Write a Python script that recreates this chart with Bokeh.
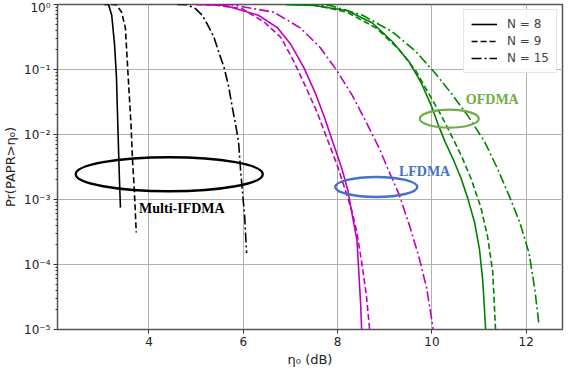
from bokeh.plotting import figure
from bokeh.models import (Range1d, FixedTicker, CustomJSTickFormatter, Legend, LegendItem, LogTicker)
from bokeh.core.properties import value
from bokeh.embed import file_html
from bokeh.resources import INLINE

# ---------------- data ----------------
# Multi-IFDMA (black)
ifdma_n8_x = [3.05, 3.144, 3.21, 3.27, 3.31, 3.33, 3.35, 3.37, 3.395]
ifdma_n8_y = [1.0, 0.99, 0.684, 0.242, 0.078, 0.024, 0.0077, 0.00245, 0.00075]
ifdma_n9_x = [3.20, 3.31, 3.42, 3.50, 3.54, 3.58, 3.62, 3.65, 3.69, 3.73]
ifdma_n9_y = [1.0, 0.99, 0.76, 0.436, 0.134, 0.043, 0.0138, 0.0042, 0.00137, 0.00031]
ifdma_n15_x = [4.60, 4.81, 4.98, 5.13, 5.27, 5.38, 5.48, 5.59, 5.69, 5.75, 5.84, 5.90, 5.94, 5.98, 6.03, 6.07]
ifdma_n15_y = [1.0, 0.99, 0.87, 0.684, 0.45, 0.31, 0.184, 0.109, 0.055, 0.0305, 0.0138, 0.0077, 0.003, 0.00137, 0.00054, 0.00015]

# LFDMA (magenta)
lfdma_n8_x = [5.00, 5.30, 5.61, 6.32, 6.73, 7.01, 7.28, 7.53, 7.74, 7.90, 8.09, 8.22, 8.32, 8.41, 8.45, 8.49, 8.51]
lfdma_n8_y = [1.0, 0.995, 0.966, 0.684, 0.436, 0.242, 0.109, 0.043, 0.0169, 0.0076, 0.0030, 0.00136, 5.3e-4, 2.4e-4, 7.7e-5, 2.4e-5, 1.0e-5]
lfdma_n9_x = [5.00, 5.40, 5.96, 6.44, 6.80, 7.07, 7.32, 7.57, 7.78, 7.99, 8.15, 8.30, 8.41, 8.51, 8.61, 8.68]
lfdma_n9_y = [1.0, 0.98, 0.87, 0.54, 0.31, 0.134, 0.055, 0.0216, 0.0085, 0.0034, 0.0015, 6.8e-4, 3.1e-4, 1.1e-4, 3.4e-5, 1.0e-5]
lfdma_n15_x = [5.20, 5.75, 6.65, 7.21, 7.63, 7.99, 8.32, 8.61, 8.89, 9.09, 9.30, 9.51, 9.72, 9.89, 10.03]
lfdma_n15_y = [1.0, 0.99, 0.76, 0.436, 0.218, 0.095, 0.039, 0.0153, 0.006, 0.0027, 0.00122, 4.3e-4, 1.35e-4, 4.3e-5, 1.0e-5]

# OFDMA (green)
ofdma_n8_x = [6.90, 7.49, 8.20, 8.74, 9.16, 9.51, 9.78, 9.99, 10.14, 10.28, 10.45, 10.62, 10.76, 10.91, 11.01, 11.08, 11.14]
ofdma_n8_y = [1.0, 0.966, 0.81, 0.52, 0.27, 0.134, 0.061, 0.0275, 0.0138, 0.0077, 0.0042, 0.0021, 0.00105, 4.3e-4, 1.7e-4, 5.5e-5, 1.0e-5]
ofdma_n9_x = [6.90, 7.49, 8.20, 8.82, 9.30, 9.66, 9.93, 10.20, 10.41, 10.62, 10.83, 11.04, 11.18, 11.29, 11.35]
ofdma_n9_y = [1.0, 0.99, 0.76, 0.436, 0.204, 0.095, 0.043, 0.0195, 0.0098, 0.0048, 0.0021, 7.5e-4, 2.7e-4, 7.7e-5, 1.0e-5]
ofdma_n15_x = [7.00, 7.84, 8.53, 9.16, 9.66, 10.08, 10.41, 10.76, 11.12, 11.39, 11.66, 11.87, 12.06, 12.18, 12.27]
ofdma_n15_y = [1.0, 0.966, 0.684, 0.38, 0.19, 0.086, 0.043, 0.0195, 0.0077, 0.003, 0.00105, 4.3e-4, 1.5e-4, 4.3e-5, 1.2e-5]

x_ticks = [4, 6, 8, 10, 12]
legend_labels = ["N = 8", "N = 9", "N = 15"]

# annotations
ann_labels = ["Multi-IFDMA", "LFDMA", "OFDMA"]
ann_text_x = [3.79, 9.30, 10.72]
ann_text_y = [7.3e-4, 0.0027, 0.035]
ell_x = [4.43, 8.82, 10.37]
ell_y = [0.00245, 0.00156, 0.0175]

# ---------------- figure ----------------
p = figure(width=566, height=369, y_axis_type="log",
           x_range=Range1d(2.06, 12.77), y_range=Range1d(1e-5, 1.0),
           output_backend="svg", toolbar_location=None,
           min_border_left=55, min_border_right=4, min_border_top=4, min_border_bottom=35)

p.background_fill_color = "white"
p.border_fill_color = "white"
p.outline_line_color = "#555555"
p.outline_line_width = 1.5

black = "black"
magenta = "#bf00bf"
green = "#008000"
solid, dashed, dashdot = "solid", "6 3", "10 3 2 3"
lw = 1.6

r8 = p.line(ifdma_n8_x, ifdma_n8_y, color=black, line_width=lw, line_dash=solid)
r9 = p.line(ifdma_n9_x, ifdma_n9_y, color=black, line_width=lw, line_dash=dashed)
r15 = p.line(ifdma_n15_x, ifdma_n15_y, color=black, line_width=lw, line_dash=dashdot)
p.line(lfdma_n8_x, lfdma_n8_y, color=magenta, line_width=lw, line_dash=solid)
p.line(lfdma_n9_x, lfdma_n9_y, color=magenta, line_width=lw, line_dash=dashed)
p.line(lfdma_n15_x, lfdma_n15_y, color=magenta, line_width=lw, line_dash=dashdot)
p.line(ofdma_n8_x, ofdma_n8_y, color=green, line_width=lw, line_dash=solid)
p.line(ofdma_n9_x, ofdma_n9_y, color=green, line_width=lw, line_dash=dashed)
p.line(ofdma_n15_x, ofdma_n15_y, color=green, line_width=lw, line_dash=dashdot)

legend = Legend(items=[LegendItem(label=legend_labels[0], renderers=[r8]),
                       LegendItem(label=legend_labels[1], renderers=[r9]),
                       LegendItem(label=legend_labels[2], renderers=[r15])],
                location="top_right")
legend.label_text_font = "DejaVu Sans"
legend.label_text_font_size = "12px"
legend.glyph_width = 26
legend.glyph_height = 14
legend.label_standoff = 10
legend.spacing = 3
legend.padding = 7
legend.margin = 5
legend.border_line_color = "#cccccc"
legend.border_line_width = 1
legend.background_fill_alpha = 0.9
p.add_layout(legend)

# ellipses (screen-sized) and labels
ell_w = [187, 82, 59]
ell_h = [34, 20, 18]
ell_c = ["black", "#4472C4", "#70AD47"]
ell_lw = [2.4, 2.4, 2.2]
for i in range(3):
    p.ellipse(x=[ell_x[i]], y=[ell_y[i]], width=ell_w[i], height=ell_h[i],
              width_units="screen", height_units="screen",
              fill_color=None, line_color=ell_c[i], line_width=ell_lw[i])

txt_c = ["black", "#4472C4", "#70AD47"]
for i in range(3):
    p.text(x=[ann_text_x[i]], y=[ann_text_y[i]], text=[ann_labels[i]],
           text_font=value("Liberation Serif"), text_font_style="bold",
           text_font_size="14px", text_color=txt_c[i],
           text_baseline="middle", text_align="left")

# axes
p.xaxis.ticker = FixedTicker(ticks=x_ticks)
p.yaxis.ticker = LogTicker(num_minor_ticks=10)
p.yaxis.formatter = CustomJSTickFormatter(code="""
const sup = {'-':'\u207b','0':'\u2070','1':'\u00b9','2':'\u00b2','3':'\u00b3','4':'\u2074','5':'\u2075','6':'\u2076','7':'\u2077','8':'\u2078','9':'\u2079'};
const e = Math.round(Math.log10(tick));
return '10' + String(e).split('').map(c => sup[c]).join('');
""")
for ax in (p.xaxis[0], p.yaxis[0]):
    ax.axis_line_color = None
    ax.major_tick_line_color = "#333333"
    ax.minor_tick_line_color = "#333333"
    ax.major_tick_in = 0
    ax.major_tick_out = 4
    ax.minor_tick_in = 0
    ax.minor_tick_out = 2
    ax.major_label_text_font = "DejaVu Sans"
    ax.major_label_text_font_size = "12px"
    ax.major_label_text_color = "#222222"
    ax.axis_label_text_font = "DejaVu Sans"
    ax.axis_label_text_font_style = "normal"
    ax.axis_label_text_font_size = "13px"
    ax.axis_label_text_color = "#222222"
    ax.major_label_standoff = 3
    ax.axis_label_standoff = 3
p.xaxis.minor_tick_line_color = None
p.xaxis.axis_label = "\u03b7\u2080 (dB)"
p.yaxis.axis_label = "Pr(PAPR>\u03b7\u2080)"

p.xgrid.grid_line_color = "#b0b0b0"
p.ygrid.grid_line_color = "#b0b0b0"
p.xgrid.grid_line_width = 1
p.ygrid.grid_line_width = 1
p.ygrid.minor_grid_line_color = None

open("out.html", "w").write(file_html(p, INLINE))
